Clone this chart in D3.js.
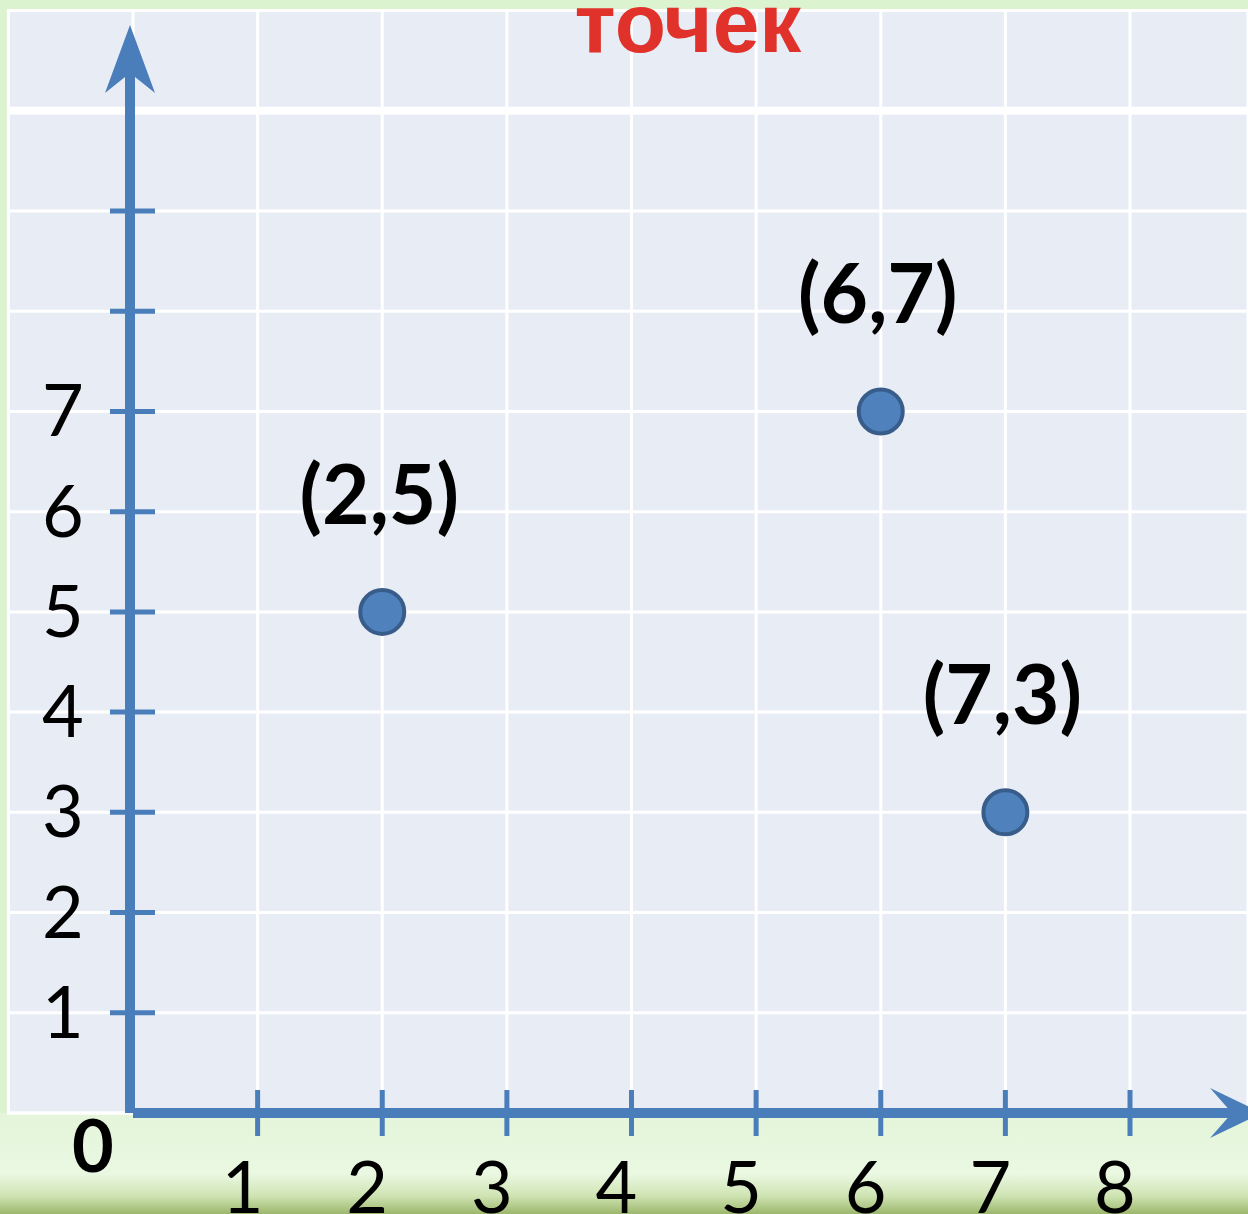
<!DOCTYPE html>
<html>
<head>
<meta charset="utf-8">
<script src="https://cdn.jsdelivr.net/npm/d3@7"></script>
<style>
  body { margin: 0; padding: 0; background: #e2f4d8; }
  svg { display: block; }
</style>
</head>
<body>
<script>
// chart values
var xTicks = [1, 2, 3, 4, 5, 6, 7, 8];
var yTicks = [1, 2, 3, 4, 5, 6, 7, 8, 9];
var yLabels = ["1", "2", "3", "4", "5", "6", "7", "", ""];
var pointX = [2, 6, 7];
var pointY = [5, 7, 3];
var pointLabels = ["(2,5)", "(6,7)", "(7,3)"];
var title = "точек";

var width = 1248, height = 1214;
var axisColor = "#4a7ebb";

var svg = d3.select("body").append("svg")
    .attr("width", width)
    .attr("height", height);

var x = d3.scaleLinear().domain([0, 8]).range([133, 1130]);
var y = d3.scaleLinear().domain([0, 9]).range([1113, 211]);

// background: green slide with a bottom gradient
var defs = svg.append("defs");
var grad = defs.append("linearGradient")
    .attr("id", "bottomGrad")
    .attr("x1", 0).attr("y1", 0).attr("x2", 0).attr("y2", 1);
grad.append("stop").attr("offset", "0%").attr("stop-color", "#e4f5da");
grad.append("stop").attr("offset", "60%").attr("stop-color", "#eaf8e2");
grad.append("stop").attr("offset", "82%").attr("stop-color", "#cfe4b3");
grad.append("stop").attr("offset", "100%").attr("stop-color", "#9cb76c");

svg.append("rect")
    .attr("width", width).attr("height", height)
    .attr("fill", "#dcf3cf");
svg.append("rect")
    .attr("x", 0).attr("y", y(0))
    .attr("width", width).attr("height", height - y(0))
    .attr("fill", "url(#bottomGrad)");

// grid panel
var panelLeft = x(-1), panelTop = y(11);
svg.append("rect")
    .attr("x", panelLeft).attr("y", panelTop)
    .attr("width", width - panelLeft).attr("height", y(0) - panelTop)
    .attr("fill", "#e8ecf5")
    .attr("stroke", "#ffffff")
    .attr("stroke-width", 3);

svg.append("g").selectAll("line")
    .data(d3.range(0, 10))
    .enter().append("line")
    .attr("x1", function (d) { return x(d); })
    .attr("x2", function (d) { return x(d); })
    .attr("y1", panelTop)
    .attr("y2", y(0))
    .attr("stroke", "#ffffff")
    .attr("stroke-width", 3);

svg.append("g").selectAll("line")
    .data(d3.range(0, 11))
    .enter().append("line")
    .attr("x1", panelLeft)
    .attr("x2", width)
    .attr("y1", function (d) { return y(d); })
    .attr("y2", function (d) { return y(d); })
    .attr("stroke", "#ffffff")
    .attr("stroke-width", function (d) { return d == 10 ? 8 : 3; });

// title (cut at the top)
svg.append("text")
    .attr("x", 688)
    .attr("y", 52)
    .attr("text-anchor", "middle")
    .attr("font-family", "Liberation Sans, Arial, sans-serif")
    .attr("font-weight", "bold")
    .attr("font-size", 84)
    .attr("fill", "#e0322b")
    .text(title);

// axes
svg.append("line")
    .attr("x1", x(0) - 3).attr("x2", x(0) - 3)
    .attr("y1", y(0)).attr("y2", 70)
    .attr("stroke", axisColor).attr("stroke-width", 10);
svg.append("path")
    .attr("d", "M130,25 L155,93 L130,73 L105,93 Z")
    .attr("fill", axisColor);

svg.append("line")
    .attr("x1", x(0)).attr("x2", 1235)
    .attr("y1", y(0)).attr("y2", y(0))
    .attr("stroke", axisColor).attr("stroke-width", 10);
svg.append("path")
    .attr("d", "M1262,1113 L1210,1088 L1232,1113 L1210,1138 Z")
    .attr("fill", axisColor);

// y ticks
svg.append("g").selectAll("line")
    .data(yTicks)
    .enter().append("line")
    .attr("x1", 110).attr("x2", 155)
    .attr("y1", function (d) { return y(d); })
    .attr("y2", function (d) { return y(d); })
    .attr("stroke", axisColor).attr("stroke-width", 5);

svg.append("g").selectAll("text")
    .data(yTicks)
    .enter().append("text")
    .attr("x", 63)
    .attr("y", function (d) { return y(d) + 25; })
    .attr("text-anchor", "middle")
    .attr("font-family", "Lato, sans-serif")
    .attr("font-size", 72)
    .attr("fill", "#000")
    .text(function (d, i) { return yLabels[i]; });

// x ticks
svg.append("g").selectAll("line")
    .data(xTicks)
    .enter().append("line")
    .attr("x1", function (d) { return x(d); })
    .attr("x2", function (d) { return x(d); })
    .attr("y1", 1090).attr("y2", 1136)
    .attr("stroke", axisColor).attr("stroke-width", 5);

svg.append("g").selectAll("text")
    .data(xTicks)
    .enter().append("text")
    .attr("x", function (d) { return x(d) - 15; })
    .attr("y", 1213)
    .attr("text-anchor", "middle")
    .attr("font-family", "Lato, sans-serif")
    .attr("font-size", 72)
    .attr("fill", "#000")
    .text(function (d) { return d; });

svg.append("text")
    .attr("x", 93).attr("y", 1172)
    .attr("text-anchor", "middle")
    .attr("font-family", "Lato, sans-serif")
    .attr("font-weight", "bold")
    .attr("font-size", 72)
    .attr("fill", "#000")
    .text("0");

// points
svg.append("g").selectAll("circle")
    .data(pointX)
    .enter().append("circle")
    .attr("cx", function (d) { return x(d); })
    .attr("cy", function (d, i) { return y(pointY[i]); })
    .attr("r", 22)
    .attr("fill", "#4f81bd")
    .attr("stroke", "#385d8a")
    .attr("stroke-width", 4);

svg.append("g").selectAll("text")
    .data(pointX)
    .enter().append("text")
    .attr("x", function (d) { return x(d) - 3; })
    .attr("y", function (d, i) { return y(pointY[i]) - 88; })
    .attr("text-anchor", "middle")
    .attr("font-family", "Lato, sans-serif")
    .attr("font-weight", "bold")
    .attr("font-size", 82)
    .attr("fill", "#000")
    .text(function (d, i) { return pointLabels[i]; });
</script>
</body>
</html>
